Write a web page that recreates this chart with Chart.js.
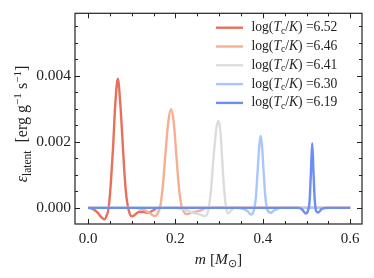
<!DOCTYPE html>
<html>
<head>
  <title>Latent heat profile</title>
  <script src="https://cdn.jsdelivr.net/npm/chart.js"></script>
  <style>
    body { margin: 0; background: #fff; }
    #wrap { width: 374px; height: 278px; }
  </style>
</head>
<body>
  <div id="wrap"><canvas id="latentChart" width="374" height="278"></canvas></div>

  <script>
    // legend labels (log Tc/K) and colours
    const tcLabels = ['6.52', '6.46', '6.41', '6.30', '6.19'];
    const colors = ['#e8705a', '#f6af93', '#dcdcdc', '#aac6fa', '#6b8ef0'];

    // mass coordinate [Msun] and eps_latent [1e-3 erg/g/s]
    const m652 = [0, 0.01, 0.02, 0.03, 0.037, 0.042, 0.047, 0.052, 0.057, 0.062, 0.068, 0.074, 0.079, 0.084, 0.088, 0.092, 0.096, 0.101, 0.108, 0.117, 0.126, 0.137, 0.148, 0.16, 0.6];
    const e652 = [0, -0.03, -0.12, -0.28, -0.35, -0.25, 0, 0.75, 1.8, 3.1, 3.92, 3.1, 2.0, 0.9, 0.3, -0.02, -0.2, -0.26, -0.2, -0.12, -0.13, -0.15, -0.08, 0, 0];

    const m646 = [0, 0.11, 0.125, 0.14, 0.153, 0.16, 0.166, 0.172, 0.178, 0.184, 0.19, 0.196, 0.202, 0.208, 0.214, 0.219, 0.226, 0.235, 0.245, 0.258, 0.27, 0.6];
    const e646 = [0, 0, -0.05, -0.15, -0.25, -0.15, 0.1, 0.8, 1.8, 2.65, 2.99, 2.6, 1.6, 0.6, 0.05, -0.12, -0.19, -0.15, -0.12, -0.08, 0, 0];

    const m641 = [0, 0.2, 0.22, 0.24, 0.255, 0.268, 0.275, 0.281, 0.287, 0.293, 0.298, 0.303, 0.309, 0.314, 0.32, 0.326, 0.335, 0.6];
    const e641 = [0, 0, -0.05, -0.15, -0.2, -0.25, -0.08, 0.5, 1.5, 2.35, 2.64, 2.3, 1.0, 0.2, -0.17, -0.1, 0, 0];

    const m630 = [0, 0.34, 0.355, 0.365, 0.373, 0.379, 0.384, 0.388, 0.392, 0.395, 0.398, 0.402, 0.406, 0.41, 0.418, 0.426, 0.44, 0.6];
    const e630 = [0, 0, -0.03, -0.1, -0.2, -0.1, 0.3, 1.1, 1.9, 2.19, 1.9, 1.05, 0.3, -0.05, -0.15, -0.08, 0, 0];

    const m619 = [0, 0.48, 0.49, 0.498, 0.503, 0.507, 0.51, 0.513, 0.516, 0.519, 0.523, 0.527, 0.535, 0.55, 0.6];
    const e619 = [0, 0, -0.05, -0.17, -0.1, 0.2, 1.05, 1.96, 1.05, 0.2, -0.12, -0.14, -0.03, 0, 0];

    const xTicks = [0, 0.2, 0.4, 0.6];
    const yTicks = [0, 0.002, 0.004];
    const xMinor = [0, 0.05, 0.1, 0.15, 0.2, 0.25, 0.3, 0.35, 0.4, 0.45, 0.5, 0.55, 0.6];
    const yMinor = [0, 0.0005, 0.001, 0.0015, 0.002, 0.0025, 0.003, 0.0035, 0.004, 0.0045, 0.005, 0.0055];

    const series = [[m652, e652], [m646, e646], [m641, e641], [m630, e630], [m619, e619]];
    const FONT = "'Liberation Serif', serif";

    const datasets = series.map((s, i) => ({
      label: tcLabels[i],
      data: s[0].map((m, j) => ({ x: m, y: s[1][j] * 1e-3 })),
      borderColor: colors[i],
      borderWidth: 2.4,
      pointRadius: 0,
      fill: false,
      cubicInterpolationMode: 'monotone',
      order: series.length - i   // last one (6.19) drawn on top
    }));

    // draw a list of text runs [text, style, dy, scale]
    function drawRuns(ctx, runs, x, y, size) {
      let cx = x;
      runs.forEach(r => {
        const sz = size * (r[3] || 1);
        ctx.font = (r[1] || '') + ' ' + sz + 'px ' + FONT;
        ctx.fillText(r[0], cx, y + (r[2] || 0) * size);
        cx += ctx.measureText(r[0]).width;
      });
      return cx - x;
    }
    function runsWidth(ctx, runs, size) {
      let w = 0;
      runs.forEach(r => {
        ctx.font = (r[1] || '') + ' ' + size * (r[3] || 1) + 'px ' + FONT;
        w += ctx.measureText(r[0]).width;
      });
      return w;
    }

    const decorPlugin = {
      id: 'decor',
      afterDraw: (chart) => {
        const ctx = chart.ctx;
        const a = chart.chartArea;
        const xs = chart.scales.x, ys = chart.scales.y;
        ctx.save();
        ctx.strokeStyle = '#222';
        ctx.lineWidth = 1.2;
        ctx.strokeRect(a.left, a.top, a.right - a.left, a.bottom - a.top);

        // inward ticks on all sides
        ctx.lineWidth = 1;
        ctx.beginPath();
        xMinor.forEach(v => {
          const px = Math.round(xs.getPixelForValue(v)) + 0.5;
          const len = xTicks.some(t => Math.abs(t - v) < 1e-9) ? 5 : 3;
          ctx.moveTo(px, a.bottom); ctx.lineTo(px, a.bottom - len);
          ctx.moveTo(px, a.top); ctx.lineTo(px, a.top + len);
        });
        yMinor.forEach(v => {
          const py = Math.round(ys.getPixelForValue(v)) + 0.5;
          const len = yTicks.some(t => Math.abs(t - v) < 1e-9) ? 5 : 3;
          ctx.moveTo(a.left, py); ctx.lineTo(a.left + len, py);
          ctx.moveTo(a.right, py); ctx.lineTo(a.right - len, py);
        });
        ctx.stroke();

        // legend
        ctx.fillStyle = '#222';
        ctx.textBaseline = 'middle';
        tcLabels.forEach((t, i) => {
          const y = 27.7 + i * 18.8;
          ctx.strokeStyle = colors[i];
          ctx.lineWidth = 2.4;
          ctx.beginPath();
          ctx.moveTo(216, y); ctx.lineTo(243, y);
          ctx.stroke();
          drawRuns(ctx, [['log(', ''], ['T', 'italic'], ['c', '', 0.25, 0.7], ['/', ''], ['K', 'italic'], [') =' + t, '']], 251.5, y, 13.6);
        });

        // x title
        ctx.textBaseline = 'alphabetic';
        const xr = [['m', 'italic'], [' [', ''], ['M', 'italic'], ['\u2299', '', 0.2, 0.7], [']', '']];
        const xw = runsWidth(ctx, xr, 15.5);
        drawRuns(ctx, xr, (a.left + a.right) / 2 - xw / 2, 264, 15.5);

        // y title
        ctx.save();
        ctx.translate(27, 124);
        ctx.rotate(-Math.PI / 2);
        const yr = [['\u03b5', 'italic'], ['latent', '', 0.25, 0.72], ['  [erg g', ''], ['\u22121', '', -0.4, 0.7], [' s', ''], ['\u22121', '', -0.4, 0.7], [']', '']];
        const yw = runsWidth(ctx, yr, 16);
        drawRuns(ctx, yr, -yw / 2, 0, 16);
        ctx.restore();
        ctx.restore();
      }
    };

    const ctx = document.getElementById('latentChart').getContext('2d');
    const latentChart = new Chart(ctx, {
      type: 'line',
      data: { datasets: datasets },
      options: {
        responsive: false,
        animation: false,
        layout: { padding: { left: 0, right: 12, top: 12, bottom: 0 } },
        plugins: { legend: { display: false }, tooltip: { enabled: false } },
        scales: {
          x: {
            type: 'linear',
            min: -0.03, max: 0.627,
            grid: { display: false, drawTicks: false },
            border: { display: false },
            afterBuildTicks: (s) => { s.ticks = xTicks.map(v => ({ value: v })); },
            afterFit: (s) => { s.height = 54; },
            ticks: {
              padding: 6,
              color: '#222',
              font: { family: FONT, size: 15 },
              maxRotation: 0,
              callback: (v) => v.toFixed(1)
            }
          },
          y: {
            min: -0.00049, max: 0.0059,
            grid: { display: false, drawTicks: false },
            border: { display: false },
            afterBuildTicks: (s) => { s.ticks = yTicks.map(v => ({ value: v })); },
            afterFit: (s) => { s.width = 75; },
            ticks: {
              padding: 4,
              color: '#222',
              font: { family: FONT, size: 15.5 },
              callback: (v) => v.toFixed(3)
            }
          }
        }
      },
      plugins: [decorPlugin]
    });
  </script>
</body>
</html>
